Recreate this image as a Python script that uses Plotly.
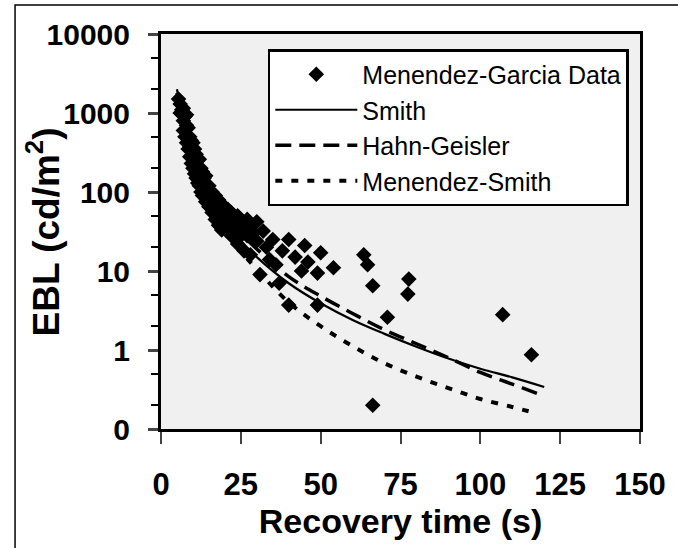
import plotly.graph_objects as go

# Menendez-Garcia data (recovery time s, EBL cd/m2)
data_x = [5.5, 6, 6, 6.5, 7, 7, 7, 7.5, 7.5, 8, 8, 8, 8.5, 8.5, 9, 9, 9, 9.5, 9.5, 10,
          10, 10, 10.5, 10.5, 11, 11, 11, 11.5, 11.5, 12, 12, 12, 12.5, 12.5, 13, 13, 13, 13.5,
          14, 14, 14, 14.5, 15, 15, 15, 15.5, 16, 16, 16, 17, 17, 17, 18, 18, 18, 19,
          19, 19, 20, 20, 20, 21, 21, 21, 22, 22, 22, 23, 23, 24, 24, 24, 25, 25, 26, 26,
          27, 27, 28, 28, 29, 30, 30, 31, 32, 33, 34, 35, 36, 37, 38, 40, 40, 42, 44, 45,
          46, 49, 50, 49, 54, 63.5, 64.7, 66.3, 66.3, 70.9, 77.3, 77.6, 107, 116]
data_y = [1500, 1300, 1000, 1100, 1150, 800, 600, 900, 500, 950, 700, 420, 650, 350, 500, 380, 280, 450, 230, 420,
          300, 200, 350, 170, 300, 220, 150, 250, 130, 260, 180, 120, 200, 100, 180, 130, 90, 150,
          160, 110, 75, 120, 120, 85, 65, 100, 100, 70, 55, 90, 65, 45, 80, 55, 38, 65,
          48, 33, 65, 50, 38, 60, 45, 35, 55, 40, 28, 45, 32, 50, 38, 22, 42, 28, 35, 18,
          45, 28, 38, 16, 30, 42, 24, 9, 32, 20, 14, 25, 12, 7, 18, 25, 3.7, 15, 10, 21,
          13, 9.4, 17, 3.7, 11, 16, 12, 6.5, 0.2, 2.6, 5.1, 7.9, 2.8, 0.87]

smith_x = [5, 6, 7, 8, 10, 12, 15, 20, 25, 30, 40, 50, 60, 70, 80, 90, 100, 110, 120]
smith_y = [2000, 1200, 800, 550, 300, 180, 100, 45, 24, 15, 7, 3.9, 2.4, 1.6, 1.1, 0.78, 0.58, 0.45, 0.34]

hg_x = [5, 6, 7, 8, 10, 12, 15, 20, 25, 30, 40, 50, 60, 70, 80, 90, 100, 110, 118]
hg_y = [1800, 1100, 750, 530, 300, 190, 110, 55, 30, 19, 8.5, 4.8, 2.9, 1.8, 1.2, 0.8, 0.52, 0.37, 0.28]

ms_x = [5, 6, 7, 8, 10, 12, 15, 20, 25, 30, 40, 50, 60, 70, 80, 90, 100, 110, 117]
ms_y = [1500, 950, 620, 440, 240, 145, 80, 35, 18, 10.5, 4.0, 2.0, 1.12, 0.68, 0.46, 0.33, 0.24, 0.19, 0.16]

x_ticks = [0, 25, 50, 75, 100, 125, 150]
y_tickvals = [0.1, 1, 10, 100, 1000, 10000]
y_ticktext = ["0", "1", "10", "100", "1000", "10000"]

FONT = "Liberation Sans, Arial, sans-serif"

fig = go.Figure()
fig.add_trace(go.Scatter(x=data_x, y=data_y, mode="markers", name="Menendez-Garcia Data",
                         marker=dict(symbol="diamond", size=12, color="black")))
fig.add_trace(go.Scatter(x=smith_x, y=smith_y, mode="lines", name="Smith",
                         line=dict(color="black", width=2.2, shape="spline")))
fig.add_trace(go.Scatter(x=hg_x, y=hg_y, mode="lines", name="Hahn-Geisler",
                         line=dict(color="black", width=3.5, dash="16px,8px", shape="spline")))
fig.add_trace(go.Scatter(x=ms_x, y=ms_y, mode="lines", name="Menendez-Smith",
                         line=dict(color="black", width=4, dash="7px,9px", shape="spline")))

fig.update_layout(
    width=678, height=548,
    margin=dict(l=161, r=28, t=34, b=119),
    paper_bgcolor="white",
    plot_bgcolor="#f0f0f0",
    font=dict(family=FONT, color="black", size=20),
    showlegend=True,
    legend=dict(x=0.223, y=0.962, xanchor="left", yanchor="top",
                bgcolor="white", bordercolor="black", borderwidth=2.5,
                font=dict(size=25, family=FONT), tracegroupgap=0, itemwidth=82),
    xaxis=dict(range=[0, 150], tickvals=x_ticks, ticks="outside", ticklen=12, tickwidth=2,
               ticklabelstandoff=14,
               showline=True, linecolor="black", linewidth=3, mirror=True, showgrid=False,
               zeroline=False, tickfont=dict(size=31, family=FONT, weight="bold"),
               title=dict(text="<b>Recovery time (s)</b>", font=dict(size=34, family=FONT), standoff=6)),
    yaxis=dict(type="log", range=[-1, 4], tickvals=y_tickvals, ticktext=y_ticktext,
               ticks="outside", ticklen=10, tickwidth=2.5, ticklabelstandoff=12,
               minor=dict(ticks="outside", ticklen=7, tickwidth=2, tickcolor="black", showgrid=False),
               showline=True, linecolor="black", linewidth=3, mirror=True, showgrid=False,
               zeroline=False, tickfont=dict(size=30, family=FONT, weight="bold")),
)

fig.add_annotation(text="<b>EBL (cd/m<sup>2</sup>)</b>", xref="paper", yref="paper",
                   x=(41 - 161) / 489, y=(429 - 232) / 395, xanchor="center", yanchor="middle",
                   textangle=-90, showarrow=False, font=dict(size=37, family=FONT, color="black"))

fig.add_shape(type="rect", xref="paper", yref="paper",
              x0=(12 - 161) / 489, x1=(690 - 161) / 489,
              y0=(429 - 560) / 395, y1=(429 - 5) / 395,
              line=dict(color="black", width=1.5), fillcolor="rgba(0,0,0,0)", layer="below")

fig.write_html("out.html")
